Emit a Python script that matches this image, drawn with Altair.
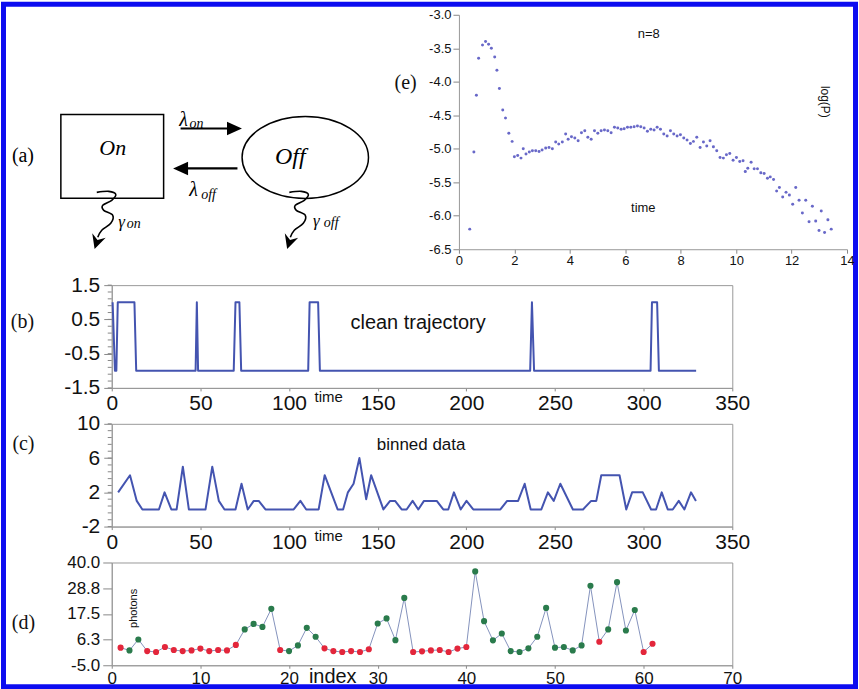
import altair as alt
import pandas as pd

SANS = "Liberation Sans"
SERIF = "Liberation Serif"
FRAME_BLUE = "#0c0cf0"
LINE_BLUE = "#4454b0"
MINUS_FIX = "replace(datum.label, '\u2212', '-')"

# ---------------- (b) clean trajectory ----------------
traj_time = [0.5, 1.8, 2.6, 3.4, 12.8, 13.8, 47.3, 48.0, 48.7, 68.8, 69.8, 72.0, 73.0,
             110.8, 111.6, 116.4, 117.4, 236.0, 237.0, 238.2, 303.9, 304.7, 307.6, 308.6, 329.6]
traj_state = [1, -1, -1, 1, 1, -1, -1, 1, -1, -1, 1, 1, -1,
              -1, 1, 1, -1, -1, 1, -1, -1, 1, 1, -1, -1]
traj_major_ticks = [-1.5, -0.5, 0.5, 1.5]
traj_minor_ticks = [-1.5, -1.3, -1.1, -0.9, -0.7, -0.5, -0.3, -0.1, 0.1, 0.3, 0.5, 0.7, 0.9, 1.1, 1.3, 1.5]
time_ticks = [0, 50, 100, 150, 200, 250, 300, 350]

# ---------------- (c) binned data ----------------
bin_time = [3.6, 10.3, 14.1, 17.3, 26.6, 29.8, 33.6, 36.6, 40.1, 43.5, 52.9, 56.7, 60.4, 63.6,
            69.8, 73.2, 76.7, 80.1, 82.9, 86.7, 102.6, 106.4, 109.7, 116.7, 120.1, 127.4, 130.5,
            133.2, 136.4, 139.7, 143.5, 146.3, 153.2, 157.0, 159.8, 163.5, 166.3, 169.7, 172.9,
            176.1, 183.3, 187.0, 189.8, 193.0, 196.8, 200.1, 203.9, 219.2, 223.0, 229.2, 232.9,
            236.3, 242.3, 246.0, 249.3, 253.0, 260.1, 265.8, 270.4, 273.3, 276.1, 286.4, 290.2,
            293.5, 299.5, 304.2, 307.0, 310.2, 313.6, 316.4, 319.8, 323.0, 326.7, 329.5]
bin_count = [2, 4, 1, 0, 0, 2, 0, 0, 5, 0, 0, 5, 1, 0,
             0, 3, 0, 1, 1, 0, 0, 1, 0, 0, 4, 0, 0,
             2, 3, 6, 1.2, 4, 0, 1, 1, 0, 0, 1, 0,
             1, 1, 0, 0, 2, 0, 1, 0, 0, 1, 1, 3,
             0, 0, 2, 1, 3, 0, 0, 1, 1, 4, 4, 0,
             2, 2, 0, 0, 2, 0, 0, 1, 0, 2, 1]
bin_major_ticks = [-2, 2, 6, 10]
bin_minor_ticks = [-2, -1.2, -0.4, 0.4, 1.2, 2, 2.8, 3.6, 4.4, 5.2, 6, 6.8, 7.6, 8.4, 9.2, 10]

# ---------------- (d) photons ----------------
photon_index = list(range(1, 62))
photon_value = [2.7, 1.5, 6.3, 1.2, 0.8, 3.0, 1.7, 1.2, 1.5, 2.3,
                1.2, 1.7, 1.5, 3.9, 10.7, 13.1, 11.8, 19.7, 1.7, 1.2,
                3.7, 11.4, 7.5, 2.4, 1.2, 0.8, 1.2, 0.8, 2.0, 13.3,
                15.5, 6.0, 24.5, 0.8, 1.1, 1.5, 1.7, 0.8, 2.3, 3.0,
                36.1, 14.3, 5.9, 8.9, 1.2, 0.8, 2.4, 7.5, 20.1, 2.7,
                3.0, 1.5, 3.7, 29.8, 5.3, 10.7, 31.4, 10.2, 19.2, 0.8, 4.4]
photon_state = (["off"] + ["on"] * 2 + ["off"] * 11 + ["on"] * 4 + ["off"] + ["on"] * 4
                + ["off"] * 6 + ["on"] * 4 + ["off"] * 7 + ["on"] * 14 + ["off"] + ["on"] * 4
                + ["off"] * 2)
photon_yticks = [-5.0, 6.25, 17.5, 28.75, 40.0]
index_ticks = [0, 10, 20, 30, 40, 50, 60, 70]

# ---------------- (e) log(P) vs time ----------------
e_time = [0.39, 0.54, 0.63, 0.71, 0.85, 0.96, 1.07, 1.17, 1.29, 1.37, 1.46, 1.58, 1.68, 1.80,
          1.92, 2.00, 2.12, 2.24, 2.32, 2.42, 2.54, 2.65, 2.77, 2.89, 3.00, 3.13, 3.25, 3.37,
          3.49, 3.60, 3.73, 3.85, 3.94, 4.06, 4.18, 4.30, 4.42, 4.54, 4.65, 4.77, 4.89, 5.01,
          5.13, 5.25, 5.37, 5.49, 5.61, 5.73, 5.85, 5.96, 6.08, 6.20, 6.32, 6.44, 6.56, 6.68,
          6.80, 6.92, 7.04, 7.15, 7.27, 7.39, 7.51, 7.63, 7.75, 7.87, 7.99, 8.11, 8.23, 8.35,
          8.46, 8.58, 8.70, 8.82, 8.94, 9.06, 9.18, 9.30, 9.42, 9.54, 9.65, 9.77, 9.89, 10.01,
          10.13, 10.25, 10.33, 10.42, 10.54, 10.65, 10.77, 10.89, 11.01, 11.13, 11.23, 11.35,
          11.46, 11.56, 11.68, 11.80, 11.92, 12.04, 12.15, 12.27, 12.39, 12.51, 12.63, 12.75,
          12.87, 12.99, 13.07, 13.19, 13.31, 13.43]
e_logp = [-6.20, -5.05, -4.20, -3.65, -3.45, -3.40, -3.44, -3.50, -3.63, -3.83, -4.10, -4.42,
          -4.54, -4.77, -4.89, -5.12, -5.10, -5.14, -5.00, -5.08, -5.05, -5.03, -5.03, -5.04,
          -5.02, -4.99, -4.98, -5.00, -4.90, -4.93, -4.90, -4.78, -4.86, -4.82, -4.84, -4.88,
          -4.76, -4.73, -4.83, -4.86, -4.73, -4.77, -4.73, -4.72, -4.73, -4.76, -4.68, -4.69,
          -4.71, -4.70, -4.68, -4.68, -4.67, -4.66, -4.67, -4.69, -4.74, -4.71, -4.72, -4.68,
          -4.71, -4.78, -4.81, -4.73, -4.78, -4.81, -4.79, -4.84, -4.87, -4.92, -4.89, -4.83,
          -4.98, -4.90, -4.96, -4.88, -4.97, -5.03, -5.13, -5.14, -5.09, -5.07, -5.17, -5.13,
          -5.19, -5.18, -5.34, -5.29, -5.20, -5.30, -5.30, -5.36, -5.37, -5.44, -5.42, -5.46,
          -5.63, -5.58, -5.72, -5.65, -5.69, -5.83, -5.58, -5.77, -5.96, -5.77, -6.09, -5.86,
          -6.08, -6.22, -5.93, -6.25, -6.06, -6.20]
e_yticks = [-6.5, -6.0, -5.5, -5.0, -4.5, -4.0, -3.5, -3.0]
e_xticks = [0, 2, 4, 6, 8, 10, 12, 14]

# ---------------- (a) schematic (diagram units) ----------------
box_x, box_x2, box_y, box_y2 = [60], [163], [113], [197]
ellipse_x, ellipse_y = [305], [156]
arrow_rules_x = [180, 187]
arrow_rules_x2 = [231, 237]
arrow_rules_y = [127, 167]
head_right_x, head_right_y = [234], [127]
head_left_x, head_left_y = [180], [167]
squig_anchor_x = [96, 289]
squig_anchor_y = [191, 191]
squig_dx = [0, 12, 19, 15, 6, 7, 16, 14, 5, 1]
squig_dy = [0, -1, 2, 8, 13, 18, 23, 31, 38, 45]
squig_head_dy = 50
diag_plain_text = ["(a)"]
diag_plain_x, diag_plain_y, diag_plain_s = [22], [155], [20]
diag_ital_text = ["On", "Off", "\u03bb", "\u03bb", "\u03b3", "\u03b3", "on", "off", "on", "off"]
diag_ital_x = [112, 290, 183, 193, 121, 316, 196, 208, 133, 331]
diag_ital_y = [147, 156, 118, 189, 221, 220, 122, 194, 223, 222]
diag_ital_s = [22, 24, 20, 20, 17, 17, 14, 14, 14, 14]

ELLIPSE = "M -1 0 A 1 0.648 0 1 1 1 0 A 1 0.648 0 1 1 -1 0 Z"
HEAD_R = "M -1 -0.9 L 1 0 L -1 0.9 Z"
HEAD_L = "M 1 -0.9 L -1 0 L 1 0.9 Z"
HEAD_D = "M -1 -1 L 0 1 L 1 -1 L 0 -0.35 Z"

TOP_W, TOP_H = 737, 235      # top row spans x 111..848
E_LEFT = 348                 # (e) plot starts 348 px right of the row's left edge

one = pd.DataFrame({"k": [0]})

dx = alt.X("x:Q", scale=alt.Scale(domain=[111, 848], nice=False, zero=False), axis=None)
dy = alt.Y("y:Q", scale=alt.Scale(domain=[13, 248], nice=False, zero=False, reverse=True), axis=None)

frame_outer = alt.Chart(one).mark_rect(color=FRAME_BLUE).encode(
    x=alt.value(-111), x2=alt.value(748), y=alt.value(-13), y2=alt.value(676))
frame_inner = alt.Chart(one).mark_rect(color="white").encode(
    x=alt.value(-106), x2=alt.value(743), y=alt.value(-8), y2=alt.value(671))

box = alt.Chart(pd.DataFrame({"x": box_x, "x2": box_x2, "y": box_y, "y2": box_y2})).mark_rect(
    filled=False, color="black", strokeWidth=1.5).encode(x=dx, x2="x2:Q", y=dy, y2="y2:Q")
ellipse = alt.Chart(pd.DataFrame({"x": ellipse_x, "y": ellipse_y})).mark_point(
    shape=ELLIPSE, size=16050, filled=False, color="black", strokeWidth=1.5, opacity=1).encode(x=dx, y=dy)
arrows = alt.Chart(pd.DataFrame({"x": arrow_rules_x, "x2": arrow_rules_x2, "y": arrow_rules_y})).mark_rule(
    color="black", strokeWidth=2.2).encode(x=dx, x2="x2:Q", y=dy)
head_r = alt.Chart(pd.DataFrame({"x": head_right_x, "y": head_right_y})).mark_point(
    shape=HEAD_R, size=225, filled=True, color="black", opacity=1).encode(x=dx, y=dy)
head_l = alt.Chart(pd.DataFrame({"x": head_left_x, "y": head_left_y})).mark_point(
    shape=HEAD_L, size=225, filled=True, color="black", opacity=1).encode(x=dx, y=dy)

sq_rows = []
for sid, (ax, ay) in enumerate(zip(squig_anchor_x, squig_anchor_y)):
    for seq, (ox, oy) in enumerate(zip(squig_dx, squig_dy)):
        sq_rows.append({"sid": sid, "seq": seq, "x": ax + ox, "y": ay + oy})
squiggles = alt.Chart(pd.DataFrame(sq_rows)).mark_line(
    color="black", strokeWidth=1.6, interpolate="cardinal").encode(
    x=dx, y=dy, detail="sid:N", order="seq:Q")
squig_heads = alt.Chart(pd.DataFrame({"x": squig_anchor_x,
                                      "y": [a + squig_head_dy for a in squig_anchor_y]})).mark_point(
    shape=HEAD_D, size=200, filled=True, color="black", opacity=1, angle=18).encode(x=dx, y=dy)

plain_txt = alt.Chart(pd.DataFrame({"x": diag_plain_x, "y": diag_plain_y, "t": diag_plain_text,
                                    "s": diag_plain_s})).mark_text(font=SERIF, color="black").encode(
    x=dx, y=dy, text="t:N", size=alt.Size("s:Q", scale=None))
ital_txt = alt.Chart(pd.DataFrame({"x": diag_ital_x, "y": diag_ital_y, "t": diag_ital_text,
                                   "s": diag_ital_s})).mark_text(font=SERIF, fontStyle="italic",
                                                                 color="black").encode(
    x=dx, y=dy, text="t:N", size=alt.Size("s:Q", scale=None))


def ylabel_axis(values, title, tx, ty, size, tick, pad, fmt=None, title_size=20, offset=None, z=0):
    kw = dict(values=values, title=title, titleAngle=0, titleX=tx, titleY=ty, titleFont=SERIF,
              titleFontSize=title_size, titleAlign="center", titleBaseline="middle",
              labelFontSize=size, tickSize=tick, labelPadding=pad, labelExpr=MINUS_FIX, orient="left",
              zindex=z)
    if fmt:
        kw["format"] = fmt
    if offset is not None:
        kw["offset"] = offset
    return alt.Axis(**kw)


# ---------------- (e) chart (right part of the top row) ----------------
e_xscale = alt.Scale(domain=[0, 14], range=[E_LEFT, TOP_W], nice=False)
e_yscale = alt.Scale(domain=[-6.5, -3.0], nice=False)
ex = alt.X("t:Q", scale=e_xscale,
           axis=alt.Axis(values=e_xticks, title=None, labelFontSize=13, tickSize=4, labelPadding=1,
                         orient="bottom", zindex=2))
ey = alt.Y("v:Q", scale=e_yscale,
           axis=ylabel_axis(e_yticks, "(e)", -54, 68, 13, 6, 2, fmt=".1f", offset=-E_LEFT, z=2))
ex_plain = alt.X("t:Q", scale=e_xscale, axis=None)
ey_plain = alt.Y("v:Q", scale=e_yscale, axis=None)
e_pts = alt.Chart(pd.DataFrame({"t": e_time, "v": e_logp})).mark_circle(
    size=9, color="#6868c8", opacity=1).encode(x=ex, y=ey)
e_txt = alt.Chart(pd.DataFrame({"t": [6.85, 6.65], "v": [-3.28, -5.89], "s": ["n=8", "time"]})).mark_text(
    font=SANS, fontSize=13, color="#111").encode(x=ex_plain, y=ey_plain, text="s:N")
e_rot = alt.Chart(pd.DataFrame({"t": [13.2], "v": [-4.3], "s": ["log(P)"]})).mark_text(
    font=SANS, fontSize=12, color="#111", angle=90).encode(x=ex_plain, y=ey_plain, text="s:N")

top = alt.layer(frame_outer, frame_inner, box, ellipse, arrows, head_r, head_l, squiggles,
                squig_heads, plain_txt, ital_txt, e_pts, e_txt, e_rot).resolve_scale(
    x="independent", y="independent").properties(
    width=TOP_W, height=TOP_H, view=alt.ViewBackground(stroke="transparent"))

# ---------------- (b) chart ----------------
time_axis = dict(values=time_ticks, title="time", titleX=217, titleY=9, titleFontSize=15,
                 titleBaseline="middle", titleAlign="center", labelFontSize=21, tickSize=3, labelPadding=2)
bx = alt.X("t:Q", scale=alt.Scale(domain=[0, 350], nice=False), axis=alt.Axis(**time_axis))
by = alt.Y("v:Q", scale=alt.Scale(domain=[-1.5, 1.5], nice=False),
           axis=ylabel_axis(traj_major_ticks, "(b)", -90, 36, 21, 8, 4, fmt=".1f"))
b_minor = alt.Chart(pd.DataFrame({"v": traj_minor_ticks})).mark_rule(color="#888", strokeWidth=1).encode(
    x=alt.value(-4), x2=alt.value(0), y=by)
b_line = alt.Chart(pd.DataFrame({"t": traj_time, "v": traj_state})).mark_line(
    color=LINE_BLUE, strokeWidth=2, strokeJoin="round").encode(x=bx, y=by)
b_txt = alt.Chart(pd.DataFrame({"t": [172.8], "v": [0.40], "s": ["clean trajectory"]})).mark_text(
    font=SANS, fontSize=20, color="#111").encode(x=bx, y=by, text="s:N")
b_chart = alt.layer(b_minor, b_line, b_txt).properties(width=622, height=103)

# ---------------- (c) chart ----------------
cx = alt.X("t:Q", scale=alt.Scale(domain=[0, 350], nice=False), axis=alt.Axis(**time_axis))
cy = alt.Y("v:Q", scale=alt.Scale(domain=[-2, 10], nice=False),
           axis=ylabel_axis(bin_major_ticks, "(c)", -89, 20, 21, 8, 4))
c_minor = alt.Chart(pd.DataFrame({"v": bin_minor_ticks})).mark_rule(color="#888", strokeWidth=1).encode(
    x=alt.value(-4), x2=alt.value(0), y=cy)
c_line = alt.Chart(pd.DataFrame({"t": bin_time, "v": bin_count})).mark_line(
    color=LINE_BLUE, strokeWidth=2, strokeJoin="round").encode(x=cx, y=cy)
c_txt = alt.Chart(pd.DataFrame({"t": [174.5], "v": [7.5], "s": ["binned data"]})).mark_text(
    font=SANS, fontSize=17, color="#111").encode(x=cx, y=cy, text="s:N")
c_chart = alt.layer(c_minor, c_line, c_txt).properties(width=622, height=103)

# ---------------- (d) chart ----------------
d_df = pd.DataFrame({"i": photon_index, "p": photon_value, "state": photon_state})
ix = alt.X("i:Q", scale=alt.Scale(domain=[0, 70], nice=False),
           axis=alt.Axis(values=index_ticks, title="index", titleX=221, titleY=11, titleFontSize=20,
                         titleBaseline="middle", titleAlign="center", labelFontSize=17, tickSize=3,
                         labelPadding=2))
iy = alt.Y("p:Q", scale=alt.Scale(domain=[-5, 40], nice=False),
           axis=ylabel_axis(photon_yticks, "(d)", -89, 60, 17, 9, 3, fmt=".1f"))
d_line = alt.Chart(d_df).mark_line(color="#8593bd", strokeWidth=1).encode(x=ix, y=iy)
d_pts = alt.Chart(d_df).mark_circle(size=38, opacity=1).encode(
    x=ix, y=iy,
    color=alt.Color("state:N", scale=alt.Scale(domain=["off", "on"], range=["#e3263b", "#2a7b4c"]),
                    legend=None))
d_txt = alt.Chart(pd.DataFrame({"i": [2.5], "p": [19.9], "s": ["photons"]})).mark_text(
    font=SANS, fontSize=11, color="#111", angle=270).encode(x=ix, y=iy, text="s:N")
d_chart = alt.layer(d_line, d_pts, d_txt).properties(width=622, height=103)

chart = alt.vconcat(top, b_chart, c_chart, d_chart, spacing=36, bounds="flush").properties(
    padding=0, background="white"
).configure_axis(
    grid=False, labelFont=SANS, labelColor="#111", titleFont=SANS, titleColor="#111",
    titleFontWeight="normal", tickColor="#888", domainColor="#999", labelOverlap=False,
    labelFlush=False, labelBound=False
).configure_view(stroke="#999", strokeWidth=1)

chart.save("out.html", embed_options={"renderer": "svg", "actions": False})
